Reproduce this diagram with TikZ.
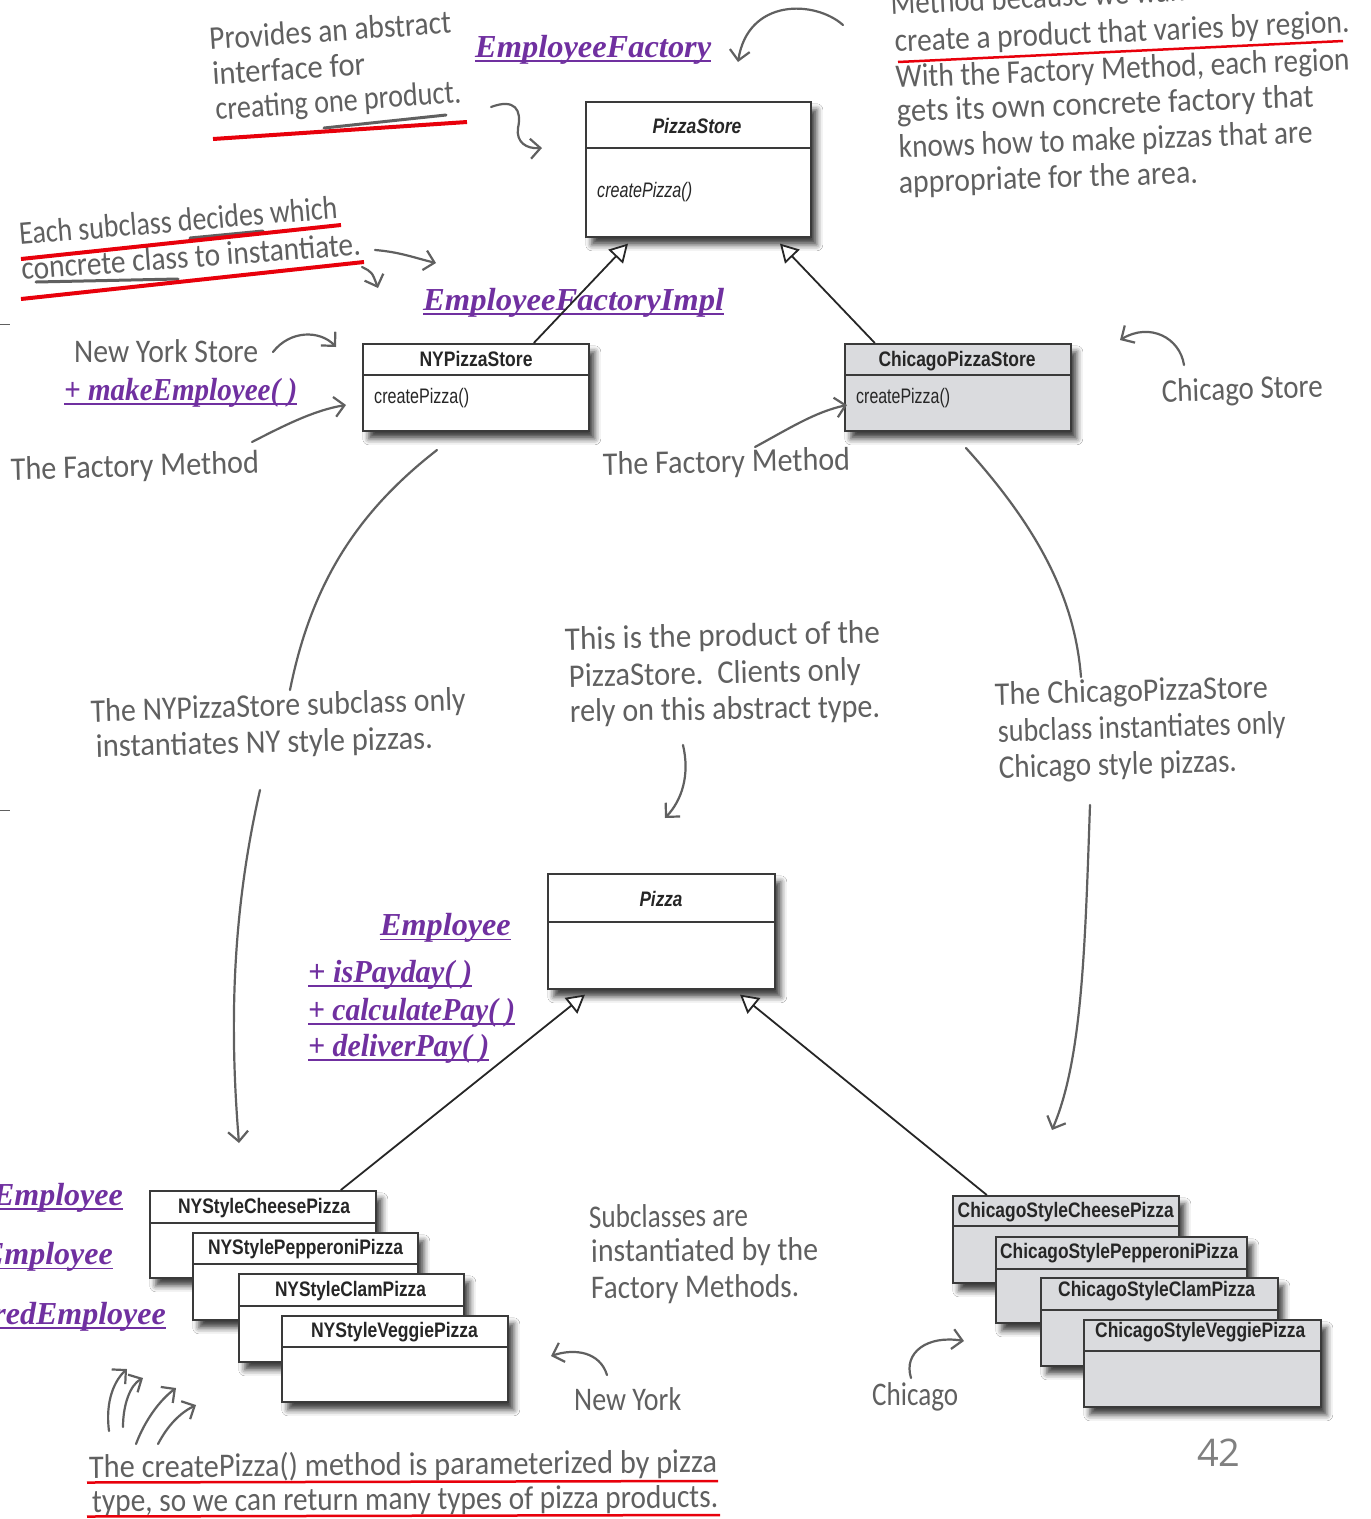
\documentclass[tikz,border=0pt]{standalone}
\usepackage{fontspec}
\usepackage{graphicx}
\usetikzlibrary{arrows.meta,shadows.blur,calc}
\newfontfamily\hwfam{Carlito}
\newfontfamily\umlfam{Liberation Sans}
\newfontfamily\purfam{Liberation Serif}
\newfontfamily\numfam{Open Sans}
\definecolor{hwc}{HTML}{606060}
\definecolor{boxc}{HTML}{3A3A3A}
\definecolor{chifill}{HTML}{DADBDE}
\definecolor{redc}{HTML}{E8000B}
\definecolor{purp}{HTML}{7030A0}
\definecolor{numc}{HTML}{808080}
\newcommand{\myhwfont}{\hwfam\fontsize{33}{38}\selectfont}
\newcommand{\myumlfont}{\umlfam\fontsize{21}{24}\selectfont}
\newcommand{\mypurfont}{\purfam\bfseries\itshape\fontsize{32}{36}\selectfont}
\newcommand{\fitw}[2]{\resizebox{#1pt}{\height}{#2}}
% handwriting line: name, x, baseline y, angle, width, text
\newcommand{\hwt}[6]{\node[hw, rotate=#4] (#1) at (#2,#3) {\fitw{#5}{#6}};}
% purple underlined text: name, x, baseline y, width, text
\newcommand{\purt}[5]{\node[pur] (#1) at (#2,#3) {\fitw{#4}{#5}};
  \draw[purl] ([yshift=-4pt]#1.base west) -- ([yshift=-4pt]#1.base east);}
\begin{document}
\begin{tikzpicture}[x=1pt,y=-1pt,
  box/.style={draw=boxc, line width=1.6pt, fill=white, inner sep=0pt, anchor=north west,
    blur shadow={shadow xshift=6pt, shadow yshift=-8pt, shadow blur radius=6pt, shadow opacity=75}},
  cbox/.style={box, fill=chifill},
  divl/.style={draw=boxc, line width=1.4pt},
  uml/.style={inner sep=0pt, anchor=base, font=\myumlfont, text=black!85},
  umlw/.style={uml, anchor=base west},
  hw/.style={inner sep=0pt, anchor=base west, text=hwc, font=\myhwfont},
  pur/.style={inner sep=0pt, anchor=base west, text=purp, font=\mypurfont},
  purl/.style={draw=purp, line width=1.8pt},
  hwline/.style={draw=hwc, line width=2.2pt, line cap=round, line join=round},
  hwarrow/.style={hwline, -{Straight Barb[length=10pt,width=20pt]}},
  gul/.style={draw=hwc, line width=3pt, line cap=round},
  inh/.style={draw=black!85, line width=1.8pt, -{Triangle[open, length=18pt, width=20pt, fill=white]}},
  redthick/.style={draw=redc, line width=4pt},
  redthin/.style={draw=redc, line width=2.5pt},
  tick/.style={draw=hwc, line width=1pt}]
\useasboundingbox (0,0) rectangle (1371,1519);
\clip (0,0) rectangle (1371,1519);
\fill[white] (0,0) rectangle (1371,1519);

% ---------- UML boxes ----------
\node[box, minimum width=225pt, minimum height=135pt] (ps) at (585,101) {};
\draw[divl] ([yshift=-47pt]ps.north west) -- ([yshift=-47pt]ps.north east);
\node[uml] (pst) at (697,133) {\fitw{89}{\bfseries\itshape PizzaStore}};
\node[umlw] (psm) at (597,197) {\fitw{95}{\itshape createPizza()}};

\node[box, minimum width=226pt, minimum height=87pt] (nys) at (362,343) {};
\draw[divl] ([yshift=-32pt]nys.north west) -- ([yshift=-32pt]nys.north east);
\node[uml] (nyst) at (476,366) {\fitw{113}{\bfseries NYPizzaStore}};
\node[umlw] (nysm) at (374,403) {\fitw{95}{createPizza()}};

\node[cbox, minimum width=226pt, minimum height=87pt] (chs) at (844,343) {};
\draw[divl] ([yshift=-32pt]chs.north west) -- ([yshift=-32pt]chs.north east);
\node[uml] (chst) at (957,366) {\fitw{157}{\bfseries ChicagoPizzaStore}};
\node[umlw] (chsm) at (856,403) {\fitw{94}{createPizza()}};

\node[box, minimum width=227pt, minimum height=115pt] (pz) at (547,873) {};
\draw[divl] ([yshift=-49pt]pz.north west) -- ([yshift=-49pt]pz.north east);
\node[uml] (pzt) at (661,906) {\fitw{43}{\bfseries\itshape Pizza}};

% NY pizzas
\node[box, minimum width=226pt, minimum height=87pt] (nyc) at (149,1190) {};
\draw[divl] ([yshift=-33pt]nyc.north west) -- ([yshift=-33pt]nyc.north east);
\node[uml] (nyct) at (264,1213) {\fitw{172}{\bfseries NYStyleCheesePizza}};
\node[box, minimum width=225pt, minimum height=87pt] (nyp) at (192,1232) {};
\draw[divl] ([yshift=-32pt]nyp.north west) -- ([yshift=-32pt]nyp.north east);
\node[uml] (nypt) at (305.5,1254) {\fitw{195}{\bfseries NYStylePepperoniPizza}};
\node[box, minimum width=225pt, minimum height=88pt] (nycl) at (238,1273) {};
\draw[divl] ([yshift=-33pt]nycl.north west) -- ([yshift=-33pt]nycl.north east);
\node[uml] (nyclt) at (350.5,1296.5) {\fitw{151}{\bfseries NYStyleClamPizza}};
\node[box, minimum width=226pt, minimum height=86pt] (nyv) at (281,1315) {};
\draw[divl] ([yshift=-32pt]nyv.north west) -- ([yshift=-32pt]nyv.north east);
\node[uml] (nyvt) at (394.5,1337) {\fitw{167}{\bfseries NYStyleVeggiePizza}};

% Chicago pizzas
\node[cbox, minimum width=226pt, minimum height=87pt] (chc) at (952,1195) {};
\draw[divl] ([yshift=-31pt]chc.north west) -- ([yshift=-31pt]chc.north east);
\node[umlw] (chct) at (957.5,1217.5) {\fitw{216}{\bfseries ChicagoStyleCheesePizza}};
\node[cbox, minimum width=251pt, minimum height=86pt] (chp) at (995,1236) {};
\draw[divl] ([yshift=-33pt]chp.north west) -- ([yshift=-33pt]chp.north east);
\node[umlw] (chpt) at (1000,1258) {\fitw{238}{\bfseries ChicagoStylePepperoniPizza}};
\node[cbox, minimum width=237pt, minimum height=88pt] (chcl) at (1040,1277) {};
\draw[divl] ([yshift=-33pt]chcl.north west) -- ([yshift=-33pt]chcl.north east);
\node[umlw] (chclt) at (1058,1296.6) {\fitw{197}{\bfseries ChicagoStyleClamPizza}};
\node[cbox, minimum width=237pt, minimum height=87pt] (chv) at (1083,1319) {};
\draw[divl] ([yshift=-32pt]chv.north west) -- ([yshift=-32pt]chv.north east);
\node[umlw] (chvt) at (1095,1337) {\fitw{210}{\bfseries ChicagoStyleVeggiePizza}};

% ---------- handwriting annotations ----------
\hwt{tA1}{210}{50}{4}{242}{Provides an abstract}
\hwt{tA2}{213}{85}{3.7}{153}{interface for}
\hwt{tA3}{216}{120}{4}{246}{creating one product.}
\draw[gul] (324,128) -- (446,115);
\draw[redthick] (213,139) -- (467,122);
\coordinate (a1s) at (491,107); \coordinate (a1e) at (542,148);
\draw[hwarrow] (a1s) .. controls (515,98) and (522,110) .. (518,128) .. controls (516,142) and (526,149) .. (a1e);

\hwt{tB0}{891}{15}{2.8}{459}{Method because we want to be able to}
\hwt{tB1}{895}{52}{2.5}{455}{create a product that varies by region.}
\hwt{tB2}{896}{88}{2.3}{454}{With the Factory Method, each region}
\hwt{tB3}{897}{122}{2.1}{417}{gets its own concrete factory that}
\hwt{tB4}{899}{158}{2.1}{414}{knows how to make pizzas that are}
\hwt{tB5}{899}{193}{1.9}{299}{appropriate for the area.}
\draw[redthin] (898,62) -- (1343,41);
\coordinate (a2s) at (843,25); \coordinate (a2e) at (738,62);
\draw[hwarrow] (a2s) .. controls (815,0) and (748,-2) .. (a2e);

\hwt{tC1}{20}{245}{4.8}{319}{Each subclass decides which}
\hwt{tC2}{22}{280}{4.2}{340}{concrete class to instantiate.}
\draw[gul] (190,238) -- (263,231);
\draw[gul] (36,282) -- (178,279);
\draw[redthick] (21,259) -- (341,225);
\draw[redthick] (21,299) -- (364,262);
\coordinate (a3s) at (375,250); \coordinate (a3e) at (436,263);
\draw[hwarrow] (a3s) .. controls (400,252) and (415,258) .. (a3e);
\coordinate (a4s) at (362,267); \coordinate (a4e) at (378,288);
\draw[hwarrow] (a4s) .. controls (372,272) .. (a4e);

\hwt{tD}{74}{362}{0}{184}{New York Store}
\coordinate (a5s) at (273,352); \coordinate (a5e) at (336,347);
\draw[hwarrow] (a5s) .. controls (290,330) and (320,330) .. (a5e);

\hwt{tE}{11}{480}{1.6}{248}{The Factory Method}
\coordinate (a6s) at (252,442); \coordinate (a6e) at (346,405);
\draw[hwarrow] (a6s) .. controls (285,425) and (315,410) .. (a6e);

\hwt{tF}{603}{475}{1.2}{247}{The Factory Method}
\coordinate (a7s) at (755,447); \coordinate (a7e) at (847,405);
\draw[hwarrow] (a7s) .. controls (790,428) and (815,412) .. (a7e);

\hwt{tG}{1162}{402}{1.8}{161}{Chicago Store}
\coordinate (a8s) at (1184,365); \coordinate (a8e) at (1120,340);
\draw[hwarrow] (a8s) .. controls (1180,338) and (1150,322) .. (a8e);

\coordinate (l1s) at (437,450); \coordinate (l1e) at (290,690);
\draw[hwline] (l1s) .. controls (360,510) and (312,580) .. (l1e);
\hwt{tH1}{91}{722}{1.8}{375}{The NYPizzaStore subclass only}
\hwt{tH2}{96}{757}{1.4}{337}{instantiates NY style pizzas.}
\coordinate (l2s) at (260,790); \coordinate (l2e) at (239,1143);
\draw[hwarrow] (l2s) .. controls (235,900) and (228,1010) .. (l2e);

\hwt{tI1}{565}{650}{1.3}{315}{This is the product of the}
\hwt{tI2}{569}{687}{1.3}{292}{PizzaStore.\ \ Clients only}
\hwt{tI3}{570}{722}{0.9}{310}{rely on this abstract type.}
\coordinate (l3s) at (683,745); \coordinate (l3e) at (665,818);
\draw[hwarrow] (l3s) .. controls (690,775) and (682,800) .. (l3e);

\coordinate (l4s) at (966,448); \coordinate (l4e) at (1081,677);
\draw[hwline] (l4s) .. controls (1040,530) and (1075,600) .. (l4e);
\hwt{tJ1}{995}{705}{1.5}{273}{The ChicagoPizzaStore}
\hwt{tJ2}{998}{742}{1.7}{288}{subclass instantiates only}
\hwt{tJ3}{999}{778}{1.5}{238}{Chicago style pizzas.}
\coordinate (l5s) at (1090,805); \coordinate (l5e) at (1052,1130);
\draw[hwarrow] (l5s) .. controls (1085,950) and (1082,1060) .. (l5e);

\hwt{tK1}{589}{1228}{0.7}{159}{Subclasses are}
\hwt{tK2}{591}{1262}{0.5}{227}{instantiated by the}
\hwt{tK3}{591}{1298.7}{0.5}{208}{Factory Methods.}

\hwt{tL}{574}{1410}{0}{107}{New York}
\coordinate (a9s) at (607,1375); \coordinate (a9e) at (551,1356);
\draw[hwarrow] (a9s) .. controls (600,1352) and (575,1348) .. (a9e);

\hwt{tM}{872}{1405}{0}{86}{Chicago}
\coordinate (a10s) at (911,1378); \coordinate (a10e) at (964,1341);
\draw[hwarrow] (a10s) .. controls (903,1352) and (928,1335) .. (a10e);

\coordinate (b1s) at (109,1431); \coordinate (b1e) at (127,1369);
\draw[hwarrow] (b1s) .. controls (105,1400) and (115,1380) .. (b1e);
\coordinate (b2s) at (123,1427); \coordinate (b2e) at (143,1378);
\draw[hwarrow] (b2s) .. controls (123,1405) and (130,1385) .. (b2e);
\coordinate (b3s) at (136,1444); \coordinate (b3e) at (176,1388);
\draw[hwarrow] (b3s) .. controls (145,1420) and (160,1400) .. (b3e);
\coordinate (b4s) at (158,1444); \coordinate (b4e) at (196,1405);
\draw[hwarrow] (b4s) .. controls (168,1425) and (180,1413) .. (b4e);

\hwt{tN1}{89}{1478}{0.5}{628}{The createPizza() method is parameterized by pizza}
\hwt{tN2}{92}{1512}{0.4}{626}{type, so we can return many types of pizza products.}
\draw[redthin] (87,1482.5) -- (718,1481);
\draw[redthin] (87,1516.5) -- (720,1515);

\draw[tick] (0,324) -- (10,324);
\draw[tick] (0,810) -- (10,810);

% ---------- purple text ----------
\purt{pEF}{475}{57}{236}{EmployeeFactory}
\purt{pEFI}{423}{310}{301}{EmployeeFactoryImpl}
\purt{pME}{64}{400}{233}{+ makeEmployee( )}
\purt{pEm}{380}{935.5}{130.5}{Employee}
\purt{pM1}{308}{982}{164}{+ isPayday( )}
\purt{pM2}{308}{1020}{207}{+ calculatePay( )}
\purt{pM3}{308}{1056}{181}{+ deliverPay( )}
\node[pur, anchor=base east] (pL1) at (123,1205) {Employee};
\draw[purl] ([yshift=-4pt]pL1.base west) -- ([yshift=-4pt]pL1.base east);
\node[pur, anchor=base east] (pL2) at (113,1264.5) {Employee};
\draw[purl] ([yshift=-4pt]pL2.base west) -- ([yshift=-4pt]pL2.base east);
\node[pur, anchor=base east] (pL3) at (166,1324) {redEmployee};
\draw[purl] ([yshift=-4pt]pL3.base west) -- ([yshift=-4pt]pL3.base east);

% ---------- inheritance connectors ----------
\draw[inh] ([xshift=58pt]nys.north) -- ($(ps.south west)+(43,6)$);
\draw[inh] ([xshift=-83pt]chs.north) -- ($(ps.south west)+(195,6)$);
\draw[inh] ([xshift=78pt]nyc.north) -- ($(pz.south west)+(38,5)$);
\draw[inh] ([xshift=-79pt]chc.north) -- ($(pz.south west)+(193,5)$);

% page number
\node[anchor=base west, inner sep=0pt, text=numc, font=\numfam\fontsize{38}{40}\selectfont] (pg) at (1197,1466) {42};
\end{tikzpicture}
\end{document}
